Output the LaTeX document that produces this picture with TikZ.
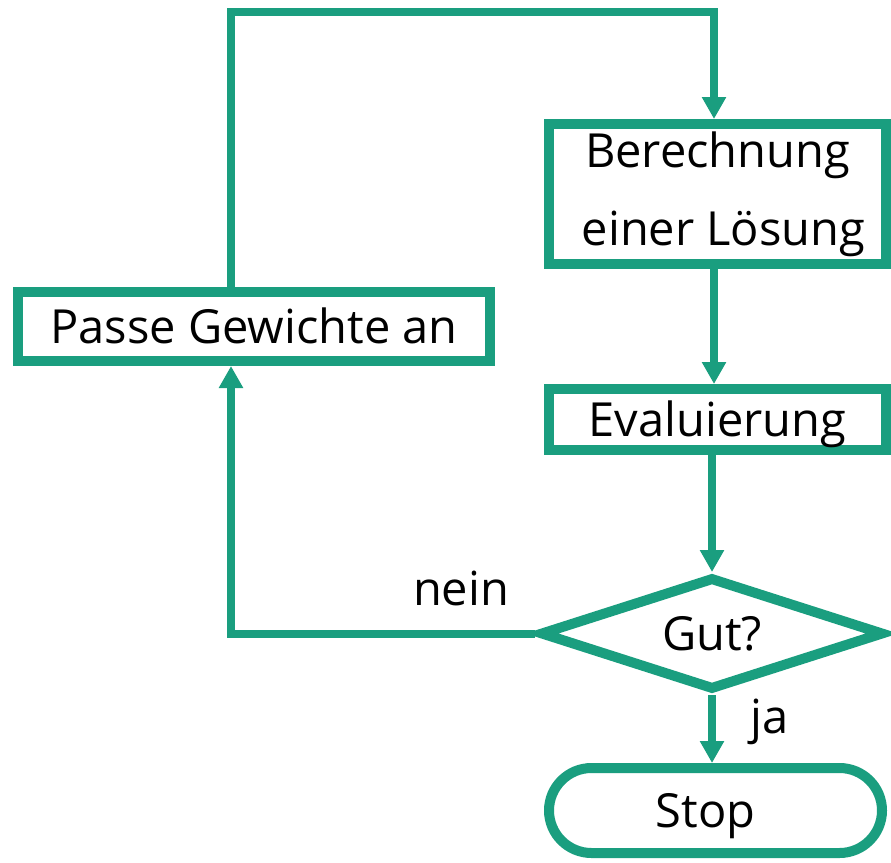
\documentclass[tikz,border=0pt]{standalone}
\usepackage{fontspec}
\setmainfont{Open Sans}
\usetikzlibrary{arrows.meta,shapes.geometric}
\definecolor{teal1}{HTML}{1A9E7F}
\begin{document}
\begin{tikzpicture}[x=1pt,y=-1pt,
  font=\fontsize{47pt}{78pt}\selectfont,
  box/.style={draw=teal1,line width=10pt,fill=white,inner sep=0pt,align=center},
  capc/.style={text height=33.5pt,text depth=0pt},
  conn/.style={draw=teal1,line width=8pt,-{Triangle[width=23pt,length=22pt]}},
  lbl/.style={inner sep=0pt}]
\useasboundingbox (0,0) rectangle (891,862);
\node[box,minimum width=337pt,minimum height=140pt] (bere) at (717.5,194) {Berechnung\\\hspace*{12pt}einer Lösung};
\node[box,capc,minimum width=337pt,minimum height=61pt] (eval) at (717.5,419.5) {Evaluierung};
\node[box,capc,shape=diamond,aspect=3,minimum width=344pt,minimum height=113pt] (dia) at (712,633.5) {Gut?};
\node[box,capc,rounded corners=42.5pt,minimum width=333pt,minimum height=85pt] (stop) at (715.5,810.5) {Stop\hspace*{20pt}};
\node[box,capc,minimum width=472pt,minimum height=69pt] (passe) at (254,326.5) {Passe Gewichte an};
\coordinate (lx) at (231,0);
\coordinate (ty) at (0,12);
\coordinate (ax) at (714,0);
\draw[conn] (passe.north -| lx) -- (lx |- ty) -- (ax |- ty) -- (bere.north -| ax);
\draw[conn] (bere.south -| ax) -- (eval.north -| ax);
\draw[conn] (eval.south -| dia.north) -- (dia.north);
\draw[conn] (dia.south) -- (stop.north -| dia.south);
\draw[conn] (dia.west) -- (lx |- dia.west) -- (passe.south -| lx);
\node[lbl] (nein) at (461,588) {nein};
\node[lbl] (ja) at (770,722) {ja};
\end{tikzpicture}
\end{document}
